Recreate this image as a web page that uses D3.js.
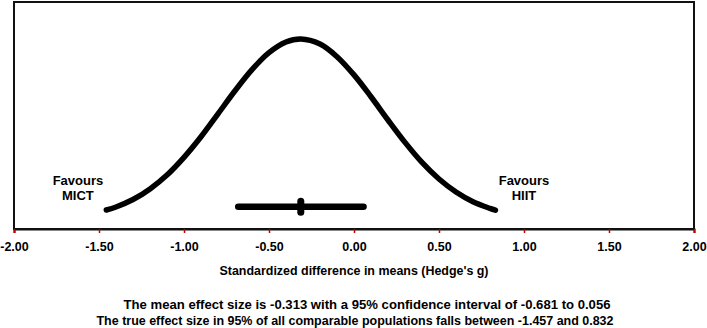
<!DOCTYPE html>
<html>
<head>
<meta charset="utf-8">
<script src="https://cdn.jsdelivr.net/npm/d3@7"></script>
<style>
  html, body { margin: 0; padding: 0; background: #fff; }
  svg { display: block; }
  text { font-family: "Liberation Sans", Arial, sans-serif; font-weight: bold; fill: #000; }
</style>
</head>
<body>
<svg id="chart" width="707" height="328"></svg>
<script>
// ---- data ----
const xTicks = [-2.0, -1.5, -1.0, -0.5, 0.0, 0.5, 1.0, 1.5, 2.0];
const tickLabels = ["-2.00", "-1.50", "-1.00", "-0.50", "0.00", "0.50", "1.00", "1.50", "2.00"];
// distribution curve: effect size (x) and relative height (peak = 1)
const curveX = [-1.457, -1.40, -1.30, -1.20, -1.10, -1.00, -0.90, -0.80, -0.70, -0.60, -0.50, -0.40, -0.313,
                -0.20, -0.10, 0.00, 0.10, 0.20, 0.30, 0.40, 0.50, 0.60, 0.70, 0.80, 0.832];
const curveH = [0.052, 0.069, 0.110, 0.169, 0.246, 0.344, 0.458, 0.585, 0.713, 0.830, 0.924, 0.983, 1.000,
                0.972, 0.902, 0.801, 0.680, 0.551, 0.427, 0.316, 0.224, 0.152, 0.098, 0.061, 0.051];
const meanEffect = -0.313;
const ciLow = -0.681, ciHigh = 0.056;
const ciLevel = 0.07;           // height of the CI bar (relative units)
const sideLabels = [
  { x: -1.624, lines: ["Favours", "MICT"] },
  { x: 1.0, lines: ["Favours", "HIIT"] }
];
const sideLabelLevel = [0.191, 0.108];
const axisTitle = "Standardized difference in means (Hedge's g)";
const noteLines = [
  "The mean effect size is -0.313 with a 95% confidence interval of -0.681 to 0.056",
  "The true effect size in 95% of all comparable populations falls between -1.457 and 0.832"
];

// ---- layout ----
const svg = d3.select("#chart");
const mLeft = 14, mRight = 694, mTop = 2, mBottom = 229;

const x = d3.scaleLinear().domain([-2, 2]).range([mLeft, mRight]);
const y = d3.scaleLinear().domain([0, 1]).range([219.4, 39]);

// frame
svg.append("rect")
  .attr("x", mLeft).attr("y", mTop)
  .attr("width", mRight - mLeft).attr("height", mBottom - mTop)
  .attr("fill", "none").attr("stroke", "#111").attr("stroke-width", 2);

// axis
const axis = d3.axisBottom(x).tickValues(xTicks)
  .tickFormat((d, i) => tickLabels[i]).tickSize(4).tickPadding(9);
const gAxis = svg.append("g").attr("transform", `translate(0,${mBottom})`).call(axis);
gAxis.select(".domain").attr("stroke", "#111").attr("stroke-width", 2);
gAxis.selectAll(".tick line").attr("stroke", "#c00000").attr("stroke-width", 1.5);
gAxis.selectAll(".tick text")
  .attr("font-size", 12.5).attr("font-family", "Liberation Sans, Arial, sans-serif")
  .attr("font-weight", "bold").attr("fill", "#000");

// axis title
svg.append("text")
  .attr("x", (mLeft + mRight) / 2).attr("y", 274.5)
  .attr("text-anchor", "middle").attr("font-size", 12.5)
  .attr("textLength", 269).attr("lengthAdjust", "spacingAndGlyphs")
  .text(axisTitle);

// notes
const noteCenters = [367, 355];
const noteWidths = [487, 517];
const noteBaselines = [308.5, 325];
noteLines.forEach((t, i) => {
  svg.append("text")
    .attr("x", noteCenters[i]).attr("y", noteBaselines[i])
    .attr("text-anchor", "middle").attr("font-size", 12.5)
    .attr("textLength", noteWidths[i]).attr("lengthAdjust", "spacingAndGlyphs")
    .text(t);
});

// distribution curve
const pts = curveX.map((v, i) => [v, curveH[i]]);
const line = d3.line().x(d => x(d[0])).y(d => y(d[1])).curve(d3.curveCatmullRom.alpha(0.5));
svg.append("path").datum(pts)
  .attr("d", line)
  .attr("fill", "none").attr("stroke", "#000")
  .attr("stroke-width", 5.5).attr("stroke-linecap", "round").attr("stroke-linejoin", "round");

// confidence interval bar
svg.append("line")
  .attr("x1", x(ciLow)).attr("x2", x(ciHigh))
  .attr("y1", y(ciLevel)).attr("y2", y(ciLevel))
  .attr("stroke", "#000").attr("stroke-width", 6.5).attr("stroke-linecap", "round");

// mean marker
svg.append("line")
  .attr("x1", x(meanEffect)).attr("x2", x(meanEffect))
  .attr("y1", y(ciLevel) - 5.5).attr("y2", y(ciLevel) + 5.5)
  .attr("stroke", "#000").attr("stroke-width", 7).attr("stroke-linecap", "round");

// side labels
sideLabels.forEach(s => {
  s.lines.forEach((t, i) => {
    svg.append("text")
      .attr("x", x(s.x)).attr("y", y(sideLabelLevel[i]))
      .attr("text-anchor", "middle").attr("font-size", 13)
      .text(t);
  });
});
</script>
</body>
</html>
